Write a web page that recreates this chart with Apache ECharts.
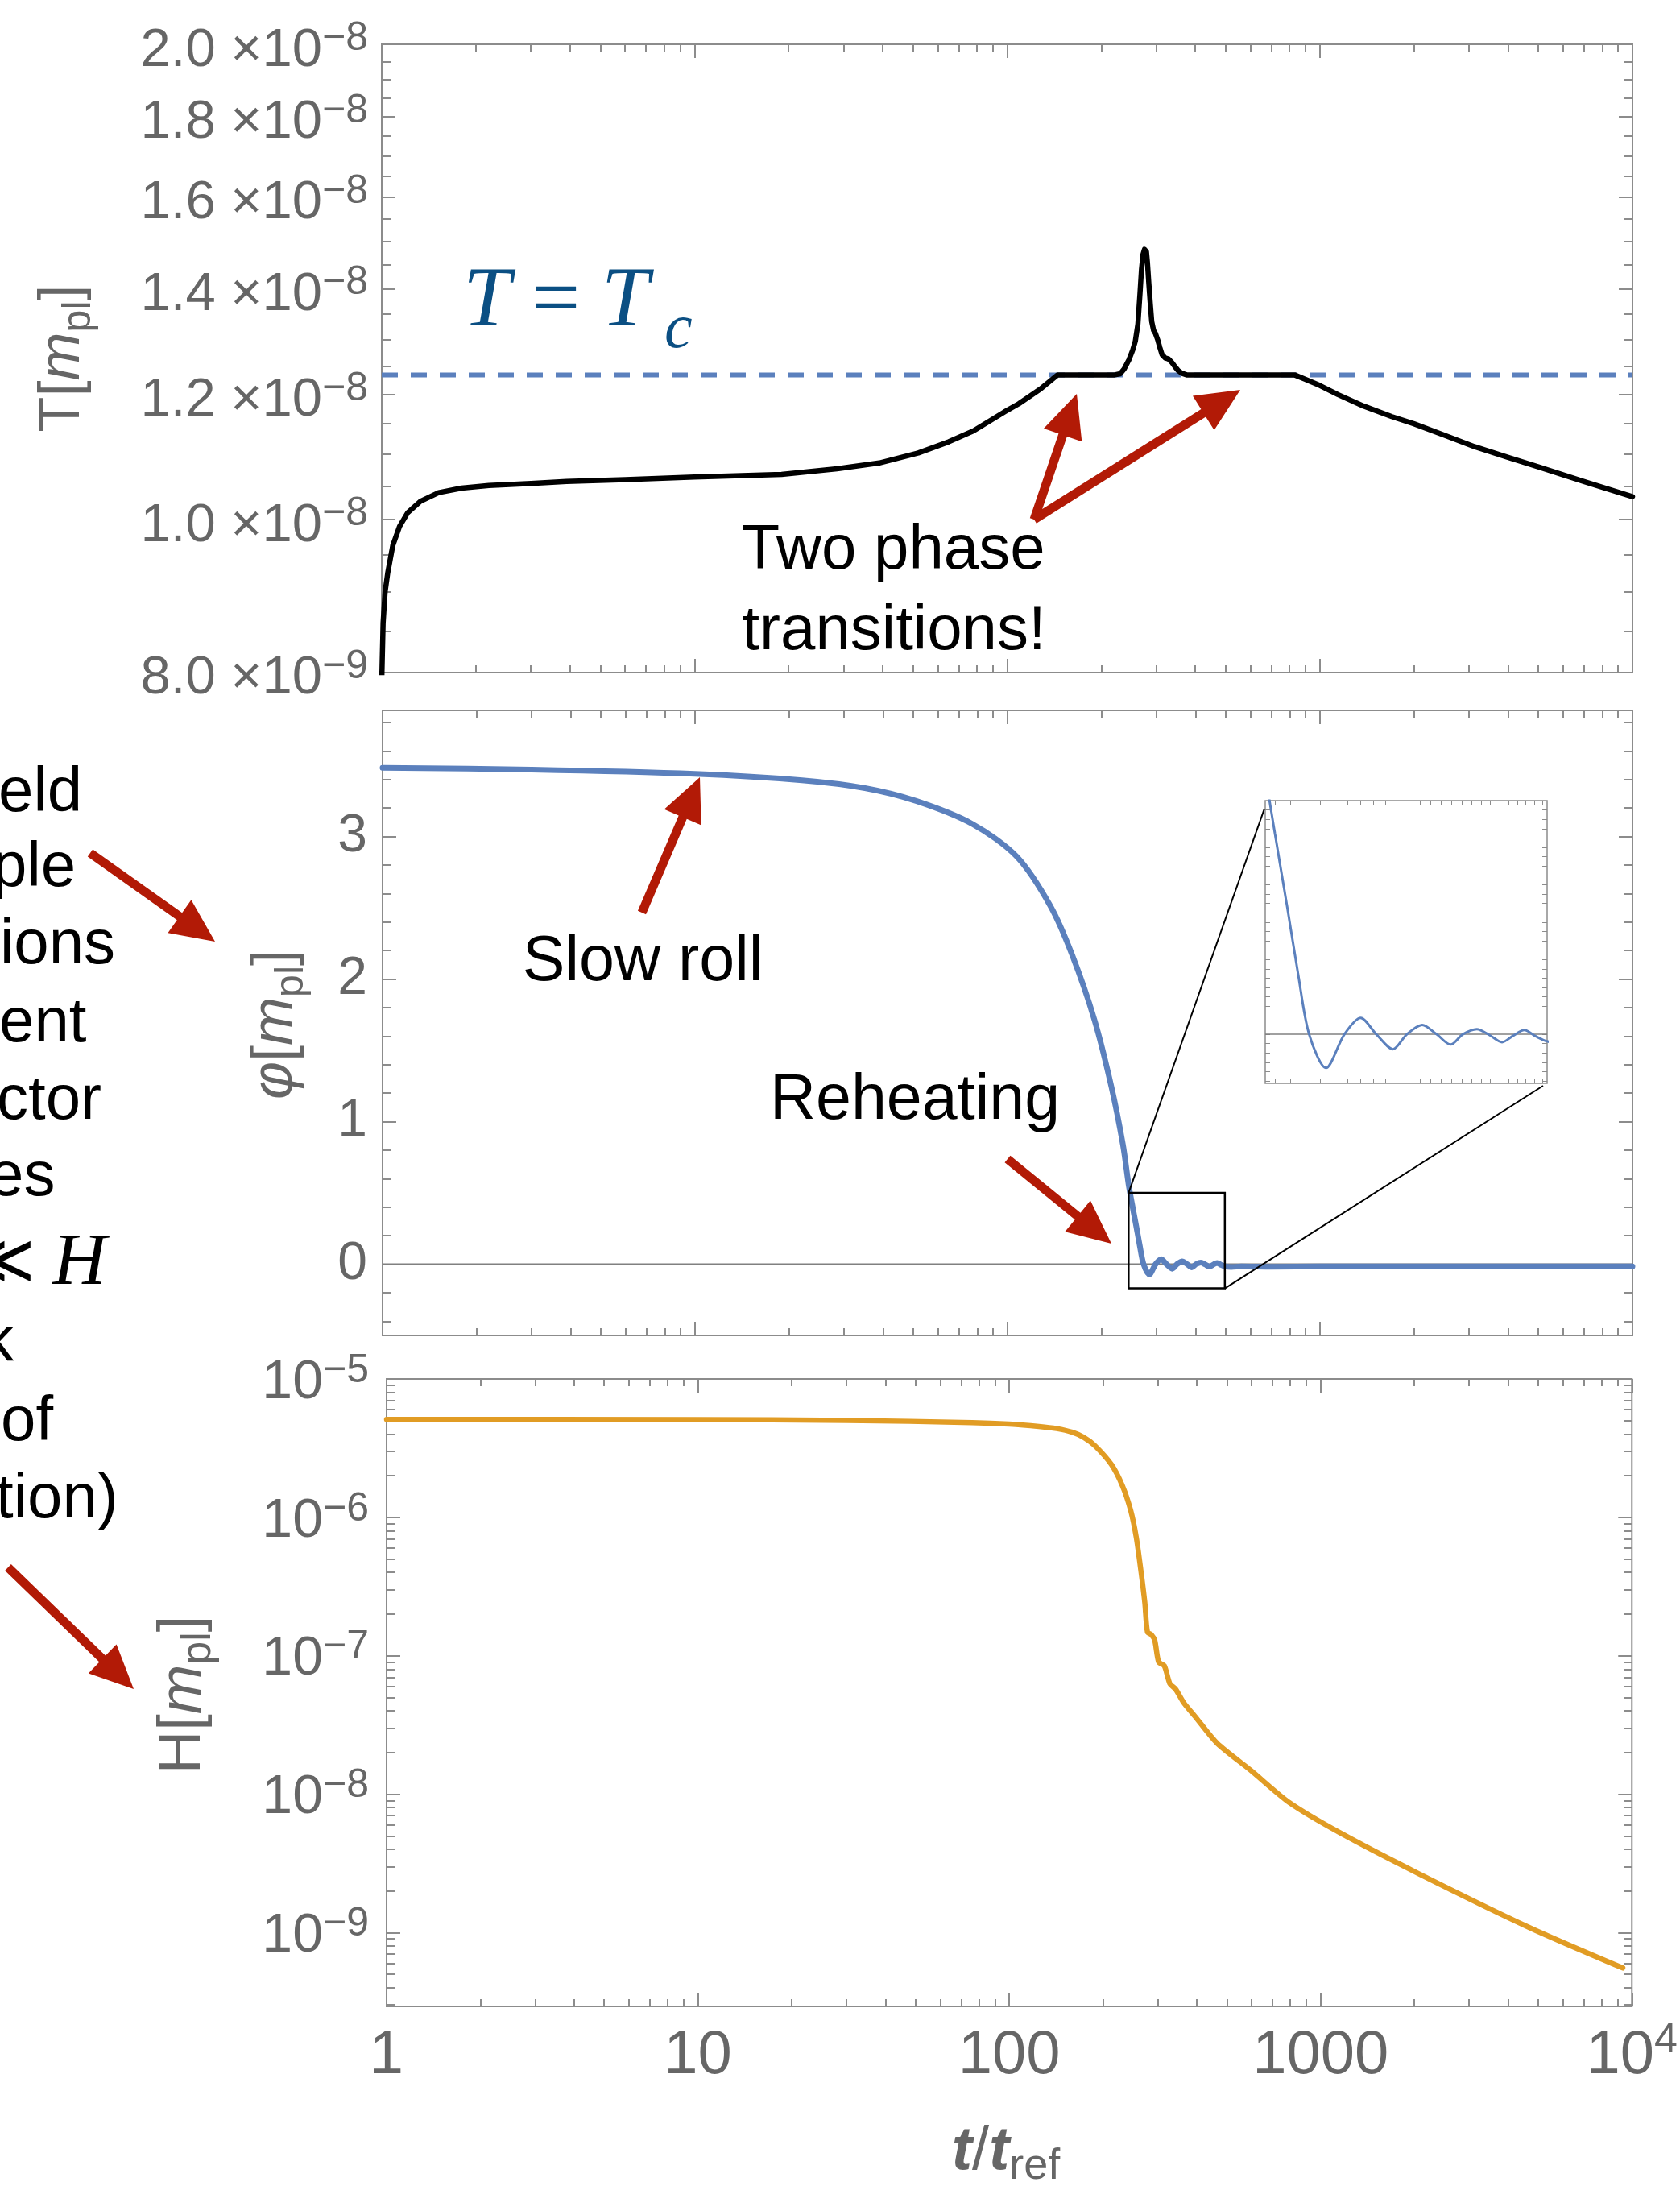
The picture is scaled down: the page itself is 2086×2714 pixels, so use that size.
<!DOCTYPE html>
<html>
<head>
<meta charset="utf-8">
<script src="https://cdn.jsdelivr.net/npm/echarts@6/dist/echarts.min.js"></script>
<style>
  html, body { margin: 0; padding: 0; background: #fff; }
  #chart { width: 2086px; height: 2714px; }
</style>
</head>
<body>
<div id="chart"></div>
<script>
// ---- values ----
// temperature T[m_pl] against t/t_ref
const tTemp = [1, 1.01, 1.025, 1.045, 1.085, 1.14, 1.21, 1.33, 1.52, 1.8, 2.2, 3, 3.9, 6, 10, 19, 28.6, 39, 52, 65, 78, 98, 109, 128, 145,
  221, 230, 237, 245, 252, 257, 262, 266, 269, 272, 275, 277, 279, 281, 284, 287, 290, 294, 298, 303, 308, 313, 320, 328, 336, 344, 352, 362, 375,
  830, 900, 1000, 1143, 1381, 1700, 2000, 2500, 3133, 4000, 5000, 7000, 10000]
const tempVals = [0.79e-8, 0.86e-8, 0.90e-8, 0.925e-8, 0.963e-8, 0.99e-8, 1.010e-8, 1.027e-8, 1.040e-8, 1.047e-8, 1.051e-8, 1.054e-8, 1.057e-8, 1.060e-8, 1.064e-8, 1.068e-8, 1.077e-8, 1.086e-8, 1.102e-8, 1.120e-8, 1.138e-8, 1.170e-8, 1.184e-8, 1.210e-8, 1.235e-8,
  1.235e-8, 1.237e-8, 1.246e-8, 1.262e-8, 1.280e-8, 1.297e-8, 1.330e-8, 1.390e-8, 1.440e-8, 1.472e-8, 1.483e-8, 1.485e-8, 1.478e-8, 1.455e-8, 1.410e-8, 1.370e-8, 1.335e-8, 1.318e-8, 1.312e-8, 1.300e-8, 1.285e-8, 1.272e-8, 1.266e-8, 1.264e-8, 1.258e-8, 1.250e-8, 1.243e-8, 1.238e-8, 1.235e-8,
  1.235e-8, 1.227e-8, 1.216e-8, 1.200e-8, 1.180e-8, 1.162e-8, 1.150e-8, 1.131e-8, 1.112e-8, 1.095e-8, 1.080e-8, 1.057e-8, 1.034e-8]
const tempCrit = 1.235e-8

// inflaton field phi[m_pl]
const tPhi = [1, 3, 10, 22, 35, 51, 77, 107, 137, 161, 190, 215, 234, 244, 250, 258, 265, 272.5, 284.3, 297.8, 310.2, 322.7, 336.5, 348.5,
  362.2, 375.6, 389, 401.2, 415.6, 429.3, 442.8, 455.4, 468.4, 481.6, 495.5, 520, 560, 700, 1000, 2000, 5000, 10000]
const phiVals = [3.482, 3.47, 3.44, 3.395, 3.34, 3.25, 3.09, 2.86, 2.515, 2.17, 1.71, 1.245, 0.84, 0.56, 0.43, 0.27, 0.13, 0.0, -0.072, 0.0, 0.035, 0.0, -0.032, 0.0,
  0.020, 0.0, -0.022, 0.0, 0.011, -0.002, -0.017, -0.003, 0.009, -0.004, -0.015, -0.02, -0.015, -0.018, -0.016, -0.016, -0.016, -0.016]

// Hubble rate H[m_pl]
const tHub = [1, 10, 30, 76, 100, 124.5, 142, 159.4, 173.2, 188, 212.8, 231, 245.6, 255.9, 264.6, 272.5, 278, 286.2, 293.4, 302, 314.8, 328, 342, 363.3, 394.6, 465.5, 596, 795, 1151, 2050, 4677, 9350]
const hubVals = [5.1e-6, 5.08e-6, 5.02e-6, 4.84e-6, 4.72e-6, 4.54e-6, 4.38e-6, 4.12e-6, 3.79e-6, 3.31e-6, 2.41e-6, 1.69e-6, 1.12e-6, 7.17e-7, 4.17e-7, 2.43e-7, 1.48e-7, 1.42e-7, 1.29e-7, 9.0e-8, 8.47e-8, 6.29e-8, 5.75e-8, 4.59e-8, 3.66e-8, 2.33e-8, 1.49e-8, 8.67e-9, 5.28e-9, 2.69e-9, 1.09e-9, 5.55e-10]

// ticks and labels
const timeTicks = [1, 10, 100, 1000, 10000]
const timeTickBase = ['1', '10', '100', '1000', '10']
const timeTickSup = ['', '', '', '', '4']
const tempTicks = [8e-9, 1e-8, 1.2e-8, 1.4e-8, 1.6e-8, 1.8e-8, 2e-8]
const tempTickMant = ['8.0', '1.0', '1.2', '1.4', '1.6', '1.8', '2.0']
const tempTickExp = ['\u22129', '\u22128', '\u22128', '\u22128', '\u22128', '\u22128', '\u22128']
const phiTicks = [0, 1, 2, 3]
const phiTickLabels = ['0', '1', '2', '3']
const hubTicks = [1e-9, 1e-8, 1e-7, 1e-6, 1e-5]
const hubTickExp = ['\u22129', '\u22128', '\u22127', '\u22126', '\u22125']

// zoomed window shown in the inset
const boxT = [244, 496]
const boxPhi = [-0.17, 0.5]
const insetPhi = [-0.105, 0.5]

const FONT = '"Liberation Sans", Arial, Helvetica, sans-serif'
const SERIF = '"Liberation Serif", "Times New Roman", serif'
const FRAME = '#8c8c8c'
const LABEL = '#666'
const BLUE = '#5b80bd'
const ORANGE = '#e19c24'
const RED = '#b21a06'

const logMinor = (lo, hi) => {
  const out = []
  for (let e = lo; e <= hi; e++) for (let k = 2; k <= 9; k++) out.push(+(k * Math.pow(10, e)).toPrecision(6))
  return out
}
const timeMinor = logMinor(0, 3)
const hubMinor = logMinor(-10, -6)
const tempMinor = []
for (let k = 16; k <= 40; k++) if (k % 4) tempMinor.push(+(k * 0.05e-8).toPrecision(6))
const phiMinor = []
for (let k = -2; k <= 19; k++) if (k % 5) phiMinor.push(+(k * 0.2).toFixed(2))
const insetTTicks = []
for (let k = 25; k <= 49; k++) insetTTicks.push(k * 10)
const insetPhiTicks = []
for (let k = -5; k <= 25; k++) insetPhiTicks.push(+(k * 0.02).toFixed(2))

const nearestLog = (arr, v) => {
  let bi = 0, bd = Infinity
  arr.forEach((a, i) => { const d = Math.abs(Math.log(a) - Math.log(v)); if (d < bd) { bd = d; bi = i } })
  return bi
}
const nearestLin = (arr, v) => {
  let bi = 0, bd = Infinity
  arr.forEach((a, i) => { const d = Math.abs(a - v); if (d < bd) { bd = d; bi = i } })
  return bi
}

// ---- axes: each frame side gets a major and a minor tick axis ----
const xAxis = []
const yAxis = []

function frameAxes(kind, grid, base, major, minor, majorLen, minorLen, label, tickWidth) {
  const sides = kind === 'x' ? ['bottom', 'top'] : ['left', 'right']
  const list = kind === 'x' ? xAxis : yAxis
  let mainIdx = -1
  sides.forEach((pos, si) => {
    [[major, majorLen], [minor, minorLen]].forEach(([vals, len], mi) => {
      const ax = Object.assign({}, base, {
        gridIndex: grid,
        position: pos,
        axisLine: { show: false, onZero: false },
        splitLine: { show: false },
        axisTick: { show: true, inside: true, length: len, customValues: vals, lineStyle: { color: FRAME, width: tickWidth || 2 } },
        axisLabel: { show: false },
      })
      if (si === 0 && mi === 0 && label) ax.axisLabel = label
      list.push(ax)
      if (si === 0 && mi === 0) mainIdx = list.length - 1
    })
  })
  return mainIdx
}

const timeBase = { type: 'log', logBase: 10, min: 0.99999, max: 10000.2 }

// top panel: temperature
const xTop = frameAxes('x', 0, timeBase, timeTicks, timeMinor, 17, 9)
const yTop = frameAxes('y', 0, { type: 'log', logBase: 10, min: 7.9999e-9, max: 2.0001e-8 }, tempTicks, tempMinor, 17, 11, {
  show: true, customValues: tempTicks, margin: 17, padding: [16, 0, 0, 0],
  formatter: v => { const i = nearestLog(tempTicks, v); return '{b|' + tempTickMant[i] + ' \u00d710}{s|' + tempTickExp[i] + '}' },
  rich: {
    b: { fontSize: 67, fontFamily: FONT, color: LABEL, lineHeight: 80 },
    s: { fontSize: 50, fontFamily: FONT, color: LABEL, lineHeight: 24, verticalAlign: 'top' },
  },
})

// middle panel: inflaton
const xMid = frameAxes('x', 1, timeBase, timeTicks, timeMinor, 17, 9)
const yMid = frameAxes('y', 1, { type: 'value', min: -0.5, max: 3.885 }, phiTicks, phiMinor, 17, 10, {
  show: true, customValues: phiTicks, margin: 19, color: LABEL, fontSize: 66, fontFamily: FONT,
  formatter: v => phiTickLabels[nearestLin(phiTicks, v)],
})

// bottom panel: Hubble rate
const xBot = frameAxes('x', 2, timeBase, timeTicks, timeMinor, 17, 9, {
  show: true, customValues: timeTicks, margin: 17,
  formatter: v => { const i = nearestLog(timeTicks, v); return '{b|' + timeTickBase[i] + '}' + (timeTickSup[i] ? '{s|' + timeTickSup[i] + '}' : '') },
  rich: {
    b: { fontSize: 76, fontFamily: FONT, color: LABEL, lineHeight: 90 },
    s: { fontSize: 52, fontFamily: FONT, color: LABEL, lineHeight: 30, verticalAlign: 'top' },
  },
})
const yBot = frameAxes('y', 2, { type: 'log', logBase: 10, min: 2.93e-10, max: 1.0001e-5 }, hubTicks, hubMinor, 17, 10, {
  show: true, customValues: hubTicks, margin: 22, padding: [10, 0, 0, 0],
  formatter: v => { const i = nearestLog(hubTicks, v); return '{b|10}{s|' + hubTickExp[i] + '}' },
  rich: {
    b: { fontSize: 68, fontFamily: FONT, color: LABEL, lineHeight: 80 },
    s: { fontSize: 50, fontFamily: FONT, color: LABEL, lineHeight: 32, verticalAlign: 'top' },
  },
})

// inset: zoom on the first oscillations
const xIn = frameAxes('x', 3, { type: 'log', logBase: 10, min: boxT[0], max: boxT[1] }, insetTTicks, [], 6, 0, null, 1)
const yIn = frameAxes('y', 3, { type: 'value', min: insetPhi[0], max: insetPhi[1] }, insetPhiTicks, [], 6, 0, null, 1)

const pairs = (xs, ys) => xs.map((x, i) => [x, ys[i]])

const option = {
  animation: false,
  backgroundColor: '#fff',
  grid: [
    { left: 474, top: 55, right: 59, height: 780, show: true, borderColor: FRAME, borderWidth: 2, backgroundColor: 'transparent' },
    { left: 475, top: 882, right: 59, height: 776, show: true, borderColor: FRAME, borderWidth: 2, backgroundColor: 'transparent' },
    { left: 480, top: 1712, right: 58, height: 779, show: true, borderColor: FRAME, borderWidth: 2, backgroundColor: 'transparent' },
    { left: 1571, top: 994, width: 350, height: 351, show: true, borderColor: FRAME, borderWidth: 1.5, backgroundColor: '#fff' },
  ],
  xAxis,
  yAxis,
  series: [
    {
      type: 'line', xAxisIndex: xTop, yAxisIndex: yTop, z: 2, symbol: 'none', silent: true,
      data: [[timeTicks[0], tempCrit], [timeTicks[4], tempCrit]],
      lineStyle: { color: BLUE, width: 6, type: [20, 16] },
    },
    {
      type: 'line', xAxisIndex: xTop, yAxisIndex: yTop, z: 3, symbol: 'none', silent: true,
      data: pairs(tTemp, tempVals),
      lineStyle: { color: '#000', width: 6.5, join: 'round', cap: 'round' },
    },
    {
      type: 'line', xAxisIndex: xMid, yAxisIndex: yMid, z: 2, symbol: 'none', silent: true,
      data: [[timeTicks[0], 0], [timeTicks[4] * 1.02, 0]],
      lineStyle: { color: '#808080', width: 2 },
    },
    {
      type: 'line', xAxisIndex: xMid, yAxisIndex: yMid, z: 3, symbol: 'none', silent: true,
      smooth: 0.3,
      data: pairs(tPhi, phiVals),
      lineStyle: { color: BLUE, width: 7, join: 'round', cap: 'round' },
    },
    {
      type: 'line', xAxisIndex: xIn, yAxisIndex: yIn, z: 2, symbol: 'none', silent: true,
      data: [[boxT[0], 0], [boxT[1], 0]],
      lineStyle: { color: '#808080', width: 1.5 },
    },
    {
      type: 'line', xAxisIndex: xIn, yAxisIndex: yIn, z: 3, symbol: 'none', silent: true,
      smooth: 0.3,
      data: pairs(tPhi, phiVals),
      lineStyle: { color: BLUE, width: 3 },
    },
    {
      type: 'line', xAxisIndex: xBot, yAxisIndex: yBot, z: 3, symbol: 'none', silent: true,
      smooth: 0.25,
      data: pairs(tHub, hubVals),
      lineStyle: { color: ORANGE, width: 6.5, join: 'round', cap: 'round' },
    },
  ],
}

const chart = echarts.init(document.getElementById('chart'), null, { renderer: 'canvas', width: 2086, height: 2714 })
chart.setOption(option)

// ---- annotations ----
function arrow(x1, y1, x2, y2) {
  const w = 11, hl = 54, hw = 50
  const dx = x2 - x1, dy = y2 - y1, len = Math.hypot(dx, dy)
  const ux = dx / len, uy = dy / len, px = -uy, py = ux
  const bx = x2 - ux * hl, by = y2 - uy * hl
  return {
    type: 'polygon', z: 100, silent: true,
    shape: { points: [
      [x1 + px * w / 2, y1 + py * w / 2], [bx + px * w / 2, by + py * w / 2], [bx + px * hw / 2, by + py * hw / 2],
      [x2, y2],
      [bx - px * hw / 2, by - py * hw / 2], [bx - px * w / 2, by - py * w / 2], [x1 - px * w / 2, y1 - py * w / 2],
    ] },
    style: { fill: RED },
  }
}

function text(str, x, baseline, size, extra) {
  return {
    type: 'text', z: 100, silent: true,
    style: Object.assign({
      text: str, x, y: baseline - 0.35 * size, fontSize: size, fontFamily: FONT, fill: '#000',
      align: 'left', verticalAlign: 'middle', textAlign: 'left', textVerticalAlign: 'middle',
    }, extra || {}),
  }
}

function axisName(main, x, y, size) {
  return {
    type: 'text', z: 100, silent: true, x, y, rotation: Math.PI / 2,
    style: {
      text: main, x: 0, y: 0, align: 'center', verticalAlign: 'middle', textAlign: 'center', textVerticalAlign: 'middle',
      rich: {
        n: { fontSize: size, fontFamily: FONT, fill: LABEL, color: LABEL, lineHeight: 90 },
        i: { fontSize: size, fontFamily: FONT, fontStyle: 'italic', fill: LABEL, color: LABEL, lineHeight: 90 },
        sub: { fontSize: size * 0.7, fontFamily: FONT, fill: LABEL, color: LABEL, lineHeight: 44, verticalAlign: 'bottom' },
      },
    },
  }
}

const pMid = (t, v) => chart.convertToPixel({ xAxisIndex: xMid, yAxisIndex: yMid }, [t, v])
const pIn = (t, v) => chart.convertToPixel({ xAxisIndex: xIn, yAxisIndex: yIn }, [t, v])
const bTL = pMid(boxT[0], boxPhi[1])
const bBR = pMid(boxT[1], boxPhi[0])
const iTL = pIn(boxT[0], insetPhi[1])
const iBR = pIn(boxT[1], insetPhi[0])

const graphics = [
  // zoom box and connectors
  { type: 'rect', z: 50, silent: true, shape: { x: bTL[0], y: bTL[1], width: bBR[0] - bTL[0], height: bBR[1] - bTL[1] }, style: { fill: 'none', stroke: '#000', lineWidth: 2.5 } },
  { type: 'line', z: 50, silent: true, shape: { x1: bTL[0], y1: bTL[1], x2: iTL[0] - 1, y2: iTL[1] + 10 }, style: { stroke: '#000', lineWidth: 2 } },
  { type: 'line', z: 50, silent: true, shape: { x1: bBR[0], y1: bBR[1], x2: iBR[0] - 5, y2: iBR[1] + 3 }, style: { stroke: '#000', lineWidth: 2 } },

  // T = T_c
  {
    type: 'text', z: 100, silent: true,
    style: {
      text: '{i|T}{n| = }{i|T}', x: 575, y: 376, align: 'left', verticalAlign: 'middle', textAlign: 'left', textVerticalAlign: 'middle',
      rich: {
        i: { fontSize: 106, fontFamily: SERIF, fontStyle: 'italic', fill: '#0b4f83', color: '#0b4f83' },
        n: { fontSize: 106, fontFamily: SERIF, fill: '#0b4f83', color: '#0b4f83' },
      },
    },
  },
  text('c', 825, 438, 78, { fontFamily: SERIF, fontStyle: 'italic', fill: '#0b4f83' }),

  // annotations inside the panels
  text('Two phase', 1109, 712, 78, { align: 'center', textAlign: 'center' }),
  text('transitions!', 1110, 812, 78, { align: 'center', textAlign: 'center' }),
  text('Slow roll', 798, 1223, 79, { align: 'center', textAlign: 'center' }),
  text('Reheating', 1136, 1395, 79, { align: 'center', textAlign: 'center' }),

  // text cut off at the left edge
  text('eld', -2, 1013, 78),
  text('ple', -10, 1106, 78),
  text('ions', 0, 1202, 78),
  text('ent', -1, 1299, 78),
  text('ctor', -4, 1395, 78),
  text('es', -14, 1490, 78),
  {
    type: 'text', z: 100, silent: true,
    style: {
      text: '{n|\u226a }{i|H}', x: -46, y: 1570, align: 'left', verticalAlign: 'middle', textAlign: 'left', textVerticalAlign: 'middle',
      rich: {
        n: { fontSize: 86, fontFamily: SERIF, fill: '#000', color: '#000' },
        i: { fontSize: 92, fontFamily: SERIF, fontStyle: 'italic', fill: '#000', color: '#000' },
      },
    },
  },
  text('k', -22, 1696, 78),
  text('of', 1, 1794, 78),
  text('tion)', -5, 1890, 78),

  // axis names
  axisName('{n|T[}{i|m}{sub|pl}{n|]}', 78, 445, 72),
  axisName('{i|\u03c6}{n|[}{i|m}{sub|pl}{n|]}', 342, 1272, 72),
  axisName('{n|H[}{i|m}{sub|pl}{n|]}', 228, 2104, 74),
  {
    type: 'text', z: 100, silent: true,
    style: {
      text: '{i|t}{n|/}{i|t}{sub|ref}', x: 1249, y: 2672, align: 'center', verticalAlign: 'middle', textAlign: 'center', textVerticalAlign: 'middle',
      rich: {
        n: { fontSize: 76, fontFamily: FONT, fill: LABEL, color: LABEL, lineHeight: 90 },
        i: { fontSize: 76, fontFamily: FONT, fontStyle: 'italic', fontWeight: 'bold', fill: LABEL, color: LABEL, lineHeight: 90 },
        sub: { fontSize: 54, fontFamily: FONT, fill: LABEL, color: LABEL, lineHeight: 44, verticalAlign: 'bottom' },
      },
    },
  },

  // red arrows
  arrow(112, 1059, 267, 1169),
  arrow(10, 1946, 166, 2097),
  arrow(797, 1133, 869, 965),
  arrow(1251, 1439, 1380, 1544),
  arrow(1284, 645, 1337, 489),
  arrow(1284, 645, 1540, 484),
]

chart.setOption({ graphic: graphics })
</script>
</body>
</html>
